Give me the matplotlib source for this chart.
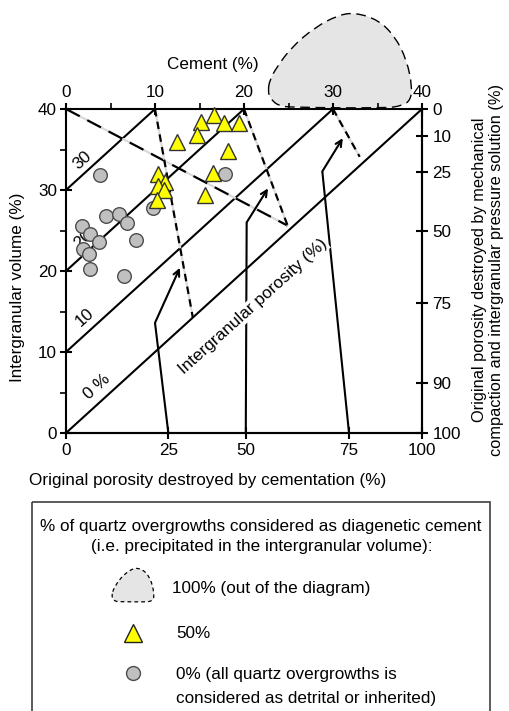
import matplotlib
matplotlib.use("Agg")
import matplotlib.pyplot as plt
from matplotlib.path import Path
from matplotlib.patches import PathPatch, Rectangle
import numpy as np

plt.rcParams['font.family'] = ['Liberation Sans', 'DejaVu Sans']

# ---------------- data ----------------
# 50% points (yellow triangles): cement (%), intergranular volume (%)
tri_cement = [16.6, 15.2, 17.8, 19.4, 14.7, 12.5, 18.2, 10.3, 16.5, 11.1, 10.3, 11.0, 15.6, 10.2]
tri_igv    = [39.3, 38.4, 38.3, 38.3, 36.8, 35.9, 34.8, 32.0, 32.1, 31.0, 30.5, 30.0, 29.4, 28.8]
# 0% points (grey circles)
cir_cement = [3.8, 17.9, 4.5, 6.0, 6.9, 9.8, 1.8, 2.7, 3.7, 7.9, 1.9, 2.6, 2.7, 6.5]
cir_igv    = [31.9, 32.0, 26.8, 27.0, 25.9, 27.8, 25.6, 24.6, 23.6, 23.8, 22.7, 22.1, 20.2, 19.4]

# 100% field (outside the diagram) outline, cement / IGV
blob_cement = [22.7, 22.9, 23.8, 25.4, 35.8, 37.8, 38.7, 38.9, 38.3, 37.0, 35.1, 32.5, 30.6, 28.0, 25.4, 23.7, 22.9]
blob_igv    = [42.3, 41.4, 40.4, 40.2, 40.1, 40.4, 41.1, 42.7, 46.0, 48.9, 51.0, 51.9, 51.6, 50.1, 47.7, 45.2, 43.6]

# iso intergranular porosity lines (%)
porosity_levels = [0, 10, 20, 30]

# dashed construction lines (cement, IGV)
long_dash = ([0, 24.9], [40, 25.6])
short_dashes = [([10, 14.25], [40, 14.25]),
                ([20, 24.9], [40, 25.6]),
                ([30, 33.0], [40, 34.1])]

# arrows (polyline: start, bend, head)
arrows = [([11.5, 10.0, 12.8], [0, 13.6, 20.4]),
          ([20.2, 20.3, 22.7], [0, 26.0, 30.2]),
          ([31.8, 28.8, 31.1], [0, 32.3, 36.4])]

# axes ticks
cement_ticks = [0, 10, 20, 30, 40]
igv_ticks = [0, 10, 20, 30, 40]
cepl_tick_pos = [0, 11.5, 20.2, 31.8, 40]
cepl_tick_lab = ['0', '25', '50', '75', '100']
copl_tick_pos = [40, 36.7, 32.2, 24.9, 16.0, 6.2, 0]
copl_tick_lab = ['0', '10', '25', '50', '75', '90', '100']

# ---------------- figure ----------------
W, H = 509, 711
fig = plt.figure(figsize=(W / 100, H / 100), dpi=100)
ax = fig.add_axes([66 / W, 1 - 433 / H, (422 - 66) / W, (433 - 109) / H])
ax.set_xlim(0, 40)
ax.set_ylim(0, 40)
for s in ax.spines.values():
    s.set_linewidth(1.5)
    s.set_color('black')

FS = 12.3
ax.xaxis.tick_top()
ax.set_xticks(cement_ticks)
ax.set_xticks([5, 15, 25, 35], minor=True)
ax.set_yticks(igv_ticks)
ax.set_yticks([5, 15, 25, 35], minor=True)
ax.tick_params(axis='x', which='major', direction='inout', length=9, width=1.5,
               labelsize=FS, pad=2, top=True, bottom=False)
ax.tick_params(axis='x', which='minor', direction='out', length=4, width=1.2,
               top=True, bottom=False)
ax.tick_params(axis='y', which='major', direction='inout', length=9, width=1.5,
               labelsize=FS, pad=2)
ax.tick_params(axis='y', which='minor', direction='out', length=4, width=1.2)

ident = (lambda v: v, lambda v: v)
secx = ax.secondary_xaxis('bottom', functions=ident)
secx.set_xticks(cepl_tick_pos, cepl_tick_lab)
secx.tick_params(direction='inout', length=9, width=1.5, labelsize=FS, pad=3)
secy = ax.secondary_yaxis('right', functions=ident)
secy.set_yticks(copl_tick_pos, copl_tick_lab)
secy.tick_params(direction='inout', length=9, width=1.5, labelsize=FS, pad=3)
for sa in (secx, secy):
    for s in sa.spines.values():
        s.set_linewidth(1.5)

# iso-porosity lines
for p in porosity_levels:
    ax.plot([0, 40 - p], [p, 40], color='black', lw=1.5, zorder=2, solid_capstyle='butt')

# dashed lines
ax.plot(*long_dash, color='black', lw=1.6, dashes=(7, 3.8), gapcolor='#d9d9d9', zorder=2)
for xs, ys in short_dashes:
    ax.plot(xs, ys, color='black', lw=1.6, dashes=(3.4, 2.4), gapcolor='#dcdcdc', zorder=2)

# arrows
for xs, ys in arrows:
    ax.plot(xs[:2], ys[:2], color='black', lw=1.5, zorder=2.5, solid_capstyle='butt')
    ax.annotate('', xy=(xs[2], ys[2]), xytext=(xs[1], ys[1]),
                arrowprops=dict(arrowstyle='->,head_length=0.45,head_width=0.22',
                                lw=1.5, color='black', shrinkA=0, shrinkB=0),
                zorder=2.5)

# line labels
rot = 42
ax.text(1.9, 33.7, '30', rotation=rot, rotation_mode='anchor', ha='center', va='center', fontsize=FS, zorder=3)
ax.text(1.9, 23.9, '20', rotation=rot, rotation_mode='anchor', ha='center', va='center', fontsize=FS, zorder=3)
ax.text(2.1, 14.3, '10', rotation=rot, rotation_mode='anchor', ha='center', va='center', fontsize=FS, zorder=3)
ax.text(3.5, 5.7, '0 %', rotation=rot, rotation_mode='anchor', ha='center', va='center', fontsize=FS, zorder=3)
ax.text(21.0, 15.6, 'Intergranular porosity (%)', rotation=rot, rotation_mode='anchor',
        ha='center', va='center', fontsize=FS, zorder=3,
        bbox=dict(facecolor='white', edgecolor='none', pad=0.5))

# data points
ax.plot(cir_cement, cir_igv, 'o', ms=9.8, mfc='#c0c0c0', mec='#4d4d4d', mew=1.0,
        ls='none', zorder=4, clip_on=False)
ax.plot(tri_cement, tri_igv, '^', ms=11.5, mfc='#ffff00', mec='#333333', mew=1.0,
        ls='none', zorder=5, clip_on=False)


# smooth closed outline through midpoints (quadratic curves)
def smooth_closed_path(xs, ys):
    pts = np.column_stack([xs, ys])
    n = len(pts)
    mids = (pts + np.roll(pts, -1, axis=0)) / 2
    verts = [mids[-1]]
    codes = [Path.MOVETO]
    for i in range(n):
        verts += [pts[i], mids[i]]
        codes += [Path.CURVE3, Path.CURVE3]
    return Path(verts, codes)


blob_path = smooth_closed_path(blob_cement, blob_igv)
ax.add_patch(PathPatch(blob_path, facecolor='#e5e5e5', edgecolor='none', clip_on=False, zorder=0.5))
ax.add_patch(PathPatch(blob_path, facecolor='none', edgecolor='black', lw=1.0,
                       linestyle=(0, (7, 4)), clip_on=False, zorder=0.6))

# ---------------- overlay (pixel coordinates) ----------------
ov = fig.add_axes([0, 0, 1, 1])
ov.set_xlim(0, W)
ov.set_ylim(H, 0)
ov.axis('off')

ov.text(213, 65, 'Cement (%)', ha='center', va='center', fontsize=FS)
ov.text(18, 287, 'Intergranular volume (%)', ha='center', va='center', rotation=90, fontsize=FS)
ov.text(208, 480, 'Original porosity destroyed by cementation (%)', ha='center', va='center', fontsize=FS)
ov.text(488, 270, 'Original porosity destroyed by mechanical\ncompaction and intergranular pressure solution (%)',
        ha='center', va='center', rotation=90, fontsize=11.8, linespacing=1.1)

# legend box
ov.add_patch(Rectangle((32, 502), 458, 230, facecolor='none', edgecolor='#404040', lw=1.2, clip_on=False))
ov.text(261, 527, '% of quartz overgrowths considered as diagenetic cement', ha='center', va='center', fontsize=FS)
ov.text(262, 547, '(i.e. precipitated in the intergranular volume):', ha='center', va='center', fontsize=FS)

# legend blob icon
bx = np.array(blob_cement)
by = np.array(blob_igv)
sx = 42 / (bx.max() - bx.min())
sy = 34 / (by.max() - by.min())
lx = 133 + (bx - (bx.max() + bx.min()) / 2) * sx
ly = 585 - (by - (by.max() + by.min()) / 2) * sy
lpath = smooth_closed_path(lx, ly)
ov.add_patch(PathPatch(lpath, facecolor='#e5e5e5', edgecolor='black', lw=0.9, linestyle=(0, (3, 2.5))))
ov.text(172, 588, '100% (out of the diagram)', ha='left', va='center', fontsize=FS)

ov.plot([133], [633], '^', ms=12.5, mfc='#ffff00', mec='#222222', mew=1.0)
ov.text(176, 633, '50%', ha='left', va='center', fontsize=FS)
ov.plot([133], [673], 'o', ms=10, mfc='#c0c0c0', mec='#4d4d4d', mew=1.0)
ov.text(176, 674, '0% (all quartz overgrowths is', ha='left', va='center', fontsize=FS)
ov.text(176, 698, 'considered as detrital or inherited)', ha='left', va='center', fontsize=FS)

fig.savefig('out.png', dpi=100)
